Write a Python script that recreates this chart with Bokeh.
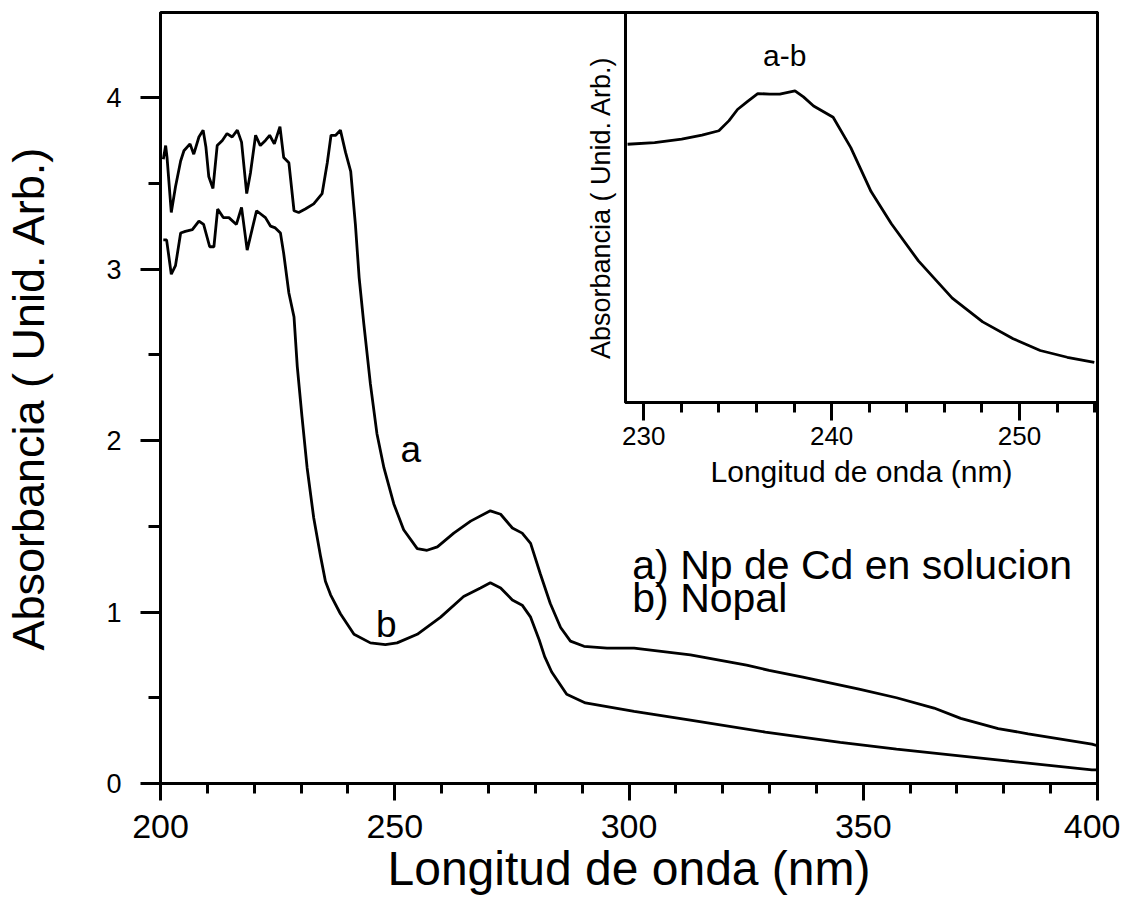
from bokeh.plotting import figure
from bokeh.models import Range1d, SingleIntervalTicker, FixedTicker, Label
from bokeh.layouts import column
from bokeh.embed import file_html
from bokeh.resources import INLINE

FONT = "Liberation Sans"

# ---- curve a : Np de Cd en solucion ----
wl_a = [200.6, 201.1, 201.4, 202.3, 203.2, 204.3, 205.0, 206.3, 207.1, 208.2, 209.1, 209.7,
        210.3, 211.2, 212.1, 213.2, 214.2, 215.3, 216.4, 217.3, 218.4, 219.2, 220.3, 221.3,
        222.4, 223.3, 224.3, 225.5, 226.3, 227.4, 228.5, 229.5, 230.9, 232.7, 234.5, 235.6,
        236.4, 237.4, 238.4, 239.5, 240.6, 241.6, 242.4, 243.4, 244.8, 246.2, 247.7, 249.8,
        251.9, 254.8, 256.9, 259.1, 262.6, 266.2, 270.4, 272.6, 275.1, 277.2, 279.0, 281.1,
        283.2, 285.4, 287.5, 290.4, 295.3, 301.1, 313.1, 325.1, 329.9, 337.1, 349.1, 357.1,
        365.1, 370.8, 378.8, 385.2, 398.8, 400.0]
abs_a = [3.64, 3.72, 3.65, 3.33, 3.48, 3.63, 3.69, 3.73, 3.67, 3.77, 3.81, 3.71,
         3.54, 3.47, 3.72, 3.75, 3.79, 3.77, 3.81, 3.74, 3.44, 3.56, 3.78, 3.72,
         3.75, 3.78, 3.73, 3.83, 3.65, 3.62, 3.34, 3.33, 3.35, 3.38, 3.44, 3.62,
         3.78, 3.78, 3.81, 3.68, 3.57, 3.26, 2.95, 2.68, 2.33, 2.04, 1.84, 1.63,
         1.48, 1.37, 1.36, 1.38, 1.46, 1.53, 1.59, 1.57, 1.49, 1.46, 1.40, 1.22,
         1.05, 0.91, 0.83, 0.80, 0.79, 0.79, 0.75, 0.69, 0.66, 0.62, 0.55, 0.50,
         0.44, 0.38, 0.32, 0.29, 0.23, 0.22]

# ---- curve b : Nopal ----
wl_b = [200.6, 201.3, 202.3, 203.2, 204.3, 205.3, 206.8, 208.2, 209.2, 210.5, 211.4, 212.2,
        213.4, 214.6, 216.2, 217.3, 218.5, 220.5, 222.4, 223.5, 224.5, 225.6, 226.3, 227.4,
        228.5, 229.2, 230.2, 231.3, 232.7, 234.2, 235.2, 236.3, 238.4, 241.3, 244.8, 248.0,
        250.5, 254.8, 259.8, 264.7, 268.3, 270.4, 272.6, 275.1, 277.2, 279.0, 280.8, 282.0,
        283.5, 286.7, 290.7, 301.1, 313.1, 329.1, 345.1, 357.1, 381.1, 398.8, 400.0]
abs_b = [3.17, 3.17, 2.97, 3.02, 3.21, 3.22, 3.23, 3.28, 3.26, 3.13, 3.13, 3.35,
         3.30, 3.30, 3.26, 3.36, 3.11, 3.34, 3.30, 3.25, 3.24, 3.21, 3.09, 2.86,
         2.72, 2.43, 2.14, 1.84, 1.55, 1.32, 1.18, 1.10, 0.99, 0.87, 0.82, 0.81,
         0.82, 0.87, 0.97, 1.09, 1.14, 1.17, 1.14, 1.07, 1.04, 0.97, 0.84, 0.74,
         0.65, 0.52, 0.47, 0.42, 0.37, 0.30, 0.24, 0.20, 0.13, 0.08, 0.08]

# ---- inset : a - b ----
wl_ab = [229.14, 230.58, 232.02, 233.10, 234.00, 234.54, 234.99, 235.53, 236.07, 236.70,
         237.24, 238.05, 238.50, 239.04, 240.08, 241.02, 242.10, 243.18, 244.62, 246.42,
         248.04, 249.66, 251.10, 252.54, 253.98]
abs_ab = [1.992, 2.005, 2.031, 2.062, 2.096, 2.174, 2.260, 2.323, 2.383, 2.378,
          2.378, 2.404, 2.357, 2.287, 2.200, 1.966, 1.627, 1.379, 1.092, 0.805,
          0.622, 0.492, 0.401, 0.349, 0.309]

legend_lines = ["a) Np de Cd en solucion", "b) Nopal"]


def style_axis(ax, label, label_size, tick_size, major_out, minor_out):
    ax.axis_label = label
    ax.axis_label_text_font = FONT
    ax.axis_label_text_font_size = label_size
    ax.axis_label_text_font_style = "normal"
    ax.axis_label_text_color = "black"
    ax.major_label_text_font = FONT
    ax.major_label_text_font_size = tick_size
    ax.major_label_text_color = "black"
    ax.axis_line_width = 3
    ax.axis_line_color = "black"
    ax.major_tick_line_width = 3
    ax.minor_tick_line_width = 3
    ax.major_tick_line_color = "black"
    ax.minor_tick_line_color = "black"
    ax.major_tick_in = 0
    ax.minor_tick_in = 0
    ax.major_tick_out = major_out
    ax.minor_tick_out = minor_out


# ---------------- main figure ----------------
p = figure(width=1120, height=911, x_range=Range1d(200, 400), y_range=Range1d(0, 4.496),
           output_backend="svg", toolbar_location=None,
           min_border_left=160, min_border_right=23, min_border_top=12, min_border_bottom=128)
p.grid.visible = False
p.outline_line_color = "black"
p.outline_line_width = 3
p.outline_line_alpha = 1
p.background_fill_color = "white"
p.border_fill_color = "white"

p.xaxis.ticker = SingleIntervalTicker(interval=50, num_minor_ticks=5)
p.yaxis.ticker = SingleIntervalTicker(interval=1, num_minor_ticks=2)
style_axis(p.xaxis[0], "Longitud de onda (nm)", "48px", "34px", 17, 10)
style_axis(p.yaxis[0], "Absorbancia ( Unid. Arb.)", "45px", "27px", 20, 12)
p.xaxis.major_label_standoff = 14
p.xaxis.axis_label_standoff = 1
p.yaxis.major_label_standoff = 19
p.yaxis.axis_label_standoff = 49

p.line(wl_a, abs_a, line_width=2.8, color="black")
p.line(wl_b, abs_b, line_width=2.8, color="black")

for txt, x, y in [("a", 253.4, 1.95), ("b", 248.2, 0.93)]:
    p.add_layout(Label(x=x, y=y, text=txt, text_font=FONT, text_font_size="37px",
                       text_align="center", text_baseline="middle", text_color="black"))
for txt, y in zip(legend_lines, [1.277, 1.079]):
    p.add_layout(Label(x=300.7, y=y, text=txt, text_font=FONT, text_font_size="41px",
                       text_align="left", text_baseline="middle", text_color="black"))

# ---------------- inset figure ----------------
# borders equal to the main figure's (a column aligns them), frame 472 x 390 px
ins = figure(width=655, height=497, x_range=Range1d(229.03, 254.15), y_range=Range1d(0, 3.008),
             output_backend="svg", toolbar_location=None,
             min_border_left=160, min_border_right=23, min_border_top=12, min_border_bottom=95,
             margin=(-911, 0, 0, 465))
ins.grid.visible = False
ins.outline_line_color = "black"
ins.outline_line_width = 3
ins.background_fill_color = "white"
ins.border_fill_alpha = 0

ins.xaxis.ticker = SingleIntervalTicker(interval=10, num_minor_ticks=5)
ins.yaxis.ticker = FixedTicker(ticks=[], minor_ticks=[])
style_axis(ins.xaxis[0], "Longitud de onda (nm)", "30px", "26px", 18, 10)
style_axis(ins.yaxis[0], "Absorbancia ( Unid. Arb.)", "27px", "1px", 0, 0)
ins.xaxis.major_label_standoff = 6
ins.xaxis.axis_label_standoff = 7
ins.yaxis.major_label_standoff = 0
ins.yaxis.axis_label_standoff = 10

ins.line(wl_ab, abs_ab, line_width=2.8, color="black")
ins.add_layout(Label(x=237.5, y=2.68, text="a-b", text_font=FONT, text_font_size="30px",
                     text_align="center", text_baseline="middle", text_color="black"))

layout = column(p, ins)
open("out.html", "w").write(file_html(layout, INLINE))
